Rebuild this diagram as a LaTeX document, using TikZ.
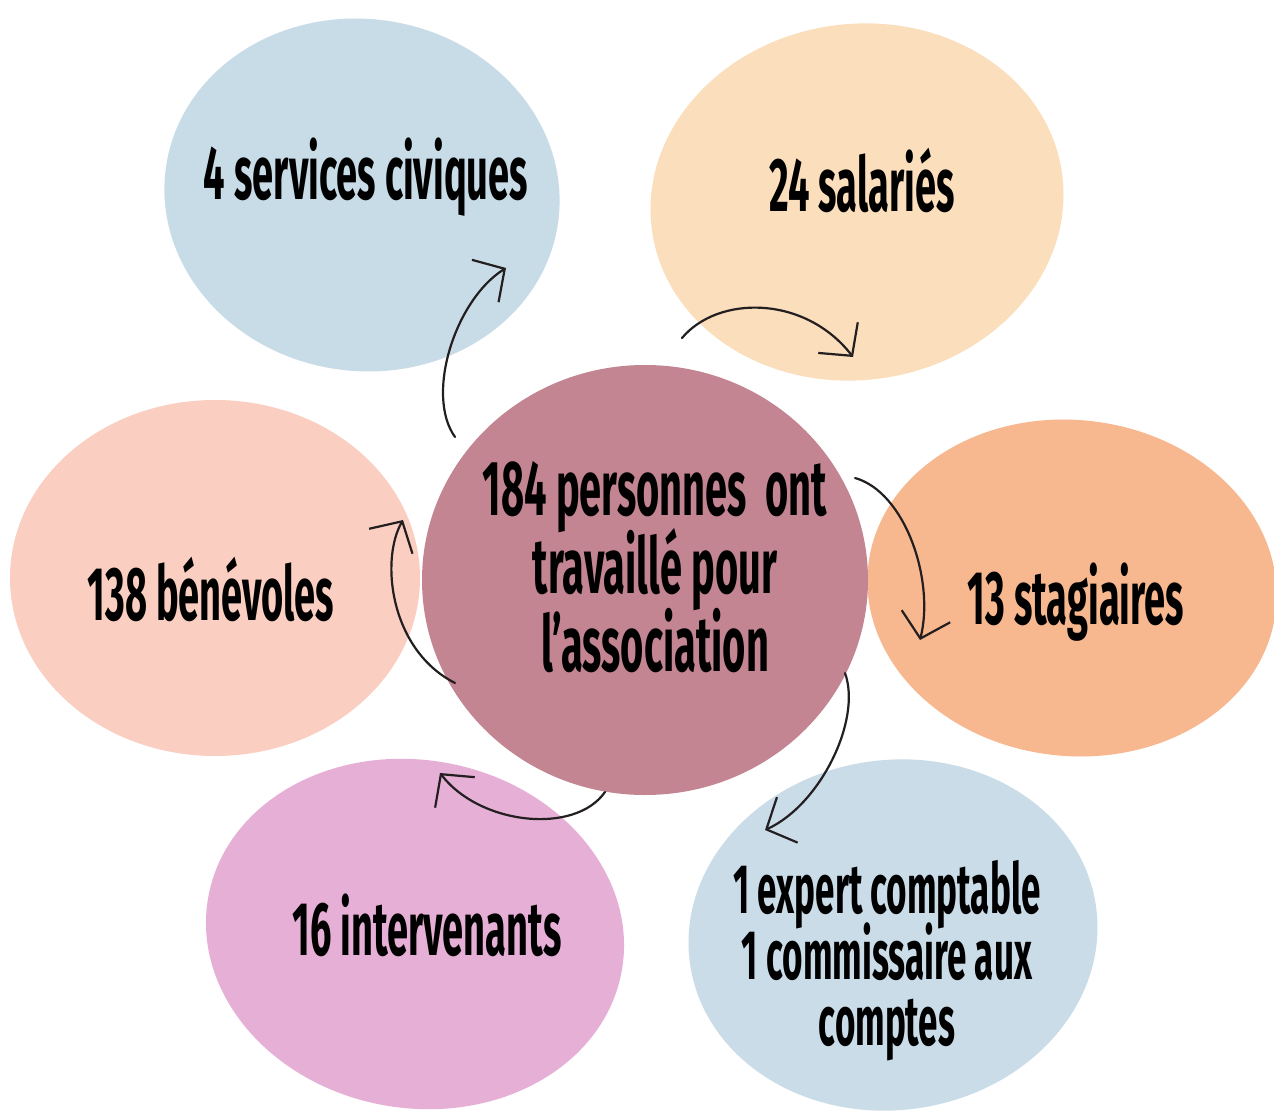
\documentclass[tikz,border=0pt]{standalone}
\usepackage{fontspec}
\setmainfont{Fira Sans}
\usetikzlibrary{shapes.geometric,arrows.meta}
\definecolor{blueA}{RGB}{200,220,231}
\definecolor{peachA}{RGB}{251,222,188}
\definecolor{mauveA}{RGB}{195,133,145}
\definecolor{pinkA}{RGB}{250,207,193}
\definecolor{orangeA}{RGB}{248,184,143}
\definecolor{purpleA}{RGB}{230,176,214}
\definecolor{blueB}{RGB}{201,220,232}
\definecolor{inkA}{RGB}{35,30,32}
\newcommand{\hw}[2]{\scalebox{#1}[1]{#2}}
\newcommand{\stk}[1]{\vtop{\lineskiplimit=-200pt\halign{\hfil##\hfil\cr#1\crcr}}}
\tikzset{
  blob/.style={ellipse, inner sep=0pt, draw=none},
  lbl/.style={inner sep=0pt, anchor=base, text=black, font=\bfseries\fontsize{76}{76}\selectfont},
  flow/.style={draw=inkA, line width=2.2pt, line cap=round, line join=round,
    -{Straight Barb[length=23pt,width=50pt,line width=2.2pt]}}
}
\begin{document}
\begin{tikzpicture}[x=1pt,y=-1pt]
\useasboundingbox (0,0) rectangle (1274,1115);
\fill[white] (0,0) rectangle (1274,1115);
% blobs
\node[blob, fill=blueA, minimum width=396pt, minimum height=352pt, rotate=-8] (bTL) at (362,195) {};
\node[blob, fill=peachA, minimum width=414pt, minimum height=356pt, rotate=8] (bTR) at (857,202) {};
\node[blob, fill=pinkA, minimum width=410pt, minimum height=356pt] (bL) at (215,578) {};
\node[blob, fill=orangeA, minimum width=410pt, minimum height=336pt, rotate=-6] (bR) at (1072,588) {};
\node[blob, fill=purpleA, minimum width=420pt, minimum height=348pt, rotate=-10] (bBL) at (415,934) {};
\node[blob, fill=blueB, minimum width=410pt, minimum height=350pt, rotate=8] (bBR) at (893,935) {};
\node[blob, fill=mauveA, minimum width=446pt, minimum height=430pt] (ctr) at (645,580) {};
% texts
\node[lbl] (tTL) at (366,200) {\hw{0.5}{4 services civiques}};
\node[lbl] (tTR) at (862,212) {\hw{0.5}{24 salariés}};
\node[lbl] (tL) at (211,620) {\hw{0.5}{138 bénévoles}};
\node[lbl] (tR) at (1076,624) {\hw{0.5}{13 stagiaires}};
\node[lbl] (tBL) at (427,955) {\hw{0.5}{16 intervenants}};
\node[lbl, font=\bfseries\fontsize{78}{78}\selectfont] (tC) at (655,515)
  {\hw{0.51}{\stk{184 personnes\ \ ont\cr travaillé pour\cr l’association}}};
\node[lbl, font=\bfseries\fontsize{70}{66}\selectfont] (tBR) at (887,913)
  {\hw{0.5}{\stk{1 expert comptable\cr 1 commissaire aux\cr comptes}}};
% connector end points
\coordinate (s1) at (455,437); \coordinate (e1) at (506,268);
\coordinate (s2) at (682,338); \coordinate (e2) at (853,357);
\coordinate (s3) at (855,478); \coordinate (e3) at (920,640);
\coordinate (s4) at (845,673); \coordinate (e4) at (765,830);
\coordinate (s5) at (605,792); \coordinate (e5) at (440,773);
\coordinate (s6) at (455,683); \coordinate (e6) at (403,520);
% connectors
\draw[flow] (s1) .. controls (425,395) and (455,300) .. (e1);
\draw[flow] (s2) .. controls (718,295) and (805,295) .. (e2);
\draw[flow] (s3) .. controls (905,492) and (935,580) .. (e3);
\draw[flow] (s4) .. controls (862,720) and (820,805) .. (e4);
\draw[flow] (s5) .. controls (575,835) and (480,825) .. (e5);
\draw[flow] (s6) .. controls (390,650) and (380,560) .. (e6);
\end{tikzpicture}
\end{document}
